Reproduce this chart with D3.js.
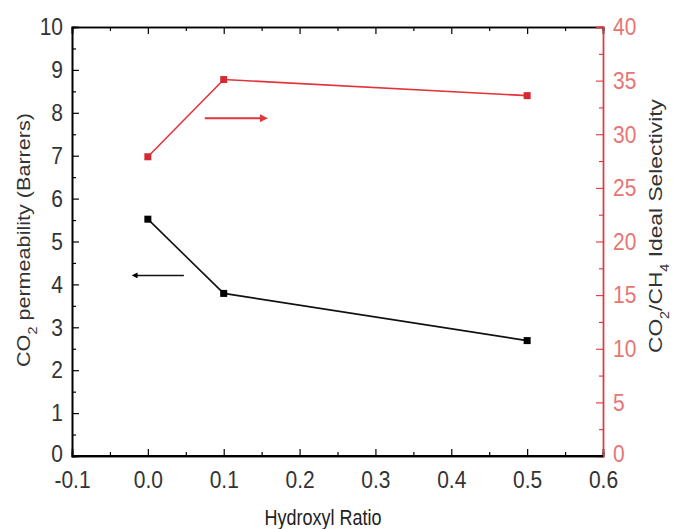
<!DOCTYPE html>
<html><head><meta charset="utf-8">
<script src="https://cdn.jsdelivr.net/npm/d3@7"></script>
<style>body{margin:0;background:#fff}svg{display:block}text{font-family:"Liberation Sans",Arial,sans-serif}
.sy{transform-box:fill-box;transform-origin:center;transform:scaleY(1.15)}
.sx{transform-box:fill-box;transform-origin:center;transform:scaleX(1.2)}
.sy2{transform-box:fill-box;transform-origin:center;transform:scaleY(1.2)}
</style>
</head><body>
<svg id="c" width="674" height="529"></svg>
<script>
const xValues = [0.0, 0.1, 0.5];
const permeability = [5.52, 3.79, 2.69];
const selectivity = [27.9, 35.1, 33.6];
const xTicks = [-0.1, 0.0, 0.1, 0.2, 0.3, 0.4, 0.5, 0.6];
const yLeftTicks = [0,1,2,3,4,5,6,7,8,9,10];
const yRightTicks = [0,5,10,15,20,25,30,35,40];

const svg = d3.select("#c");
const L = 72, R = 603, T = 27, B = 456;
const red = "#e3343c";
const x = d3.scaleLinear().domain([-0.1, 0.6]).range([L, R]);
const yl = d3.scaleLinear().domain([0, 10]).range([B, T]);
const yr = d3.scaleLinear().domain([0, 40]).range([B, T]);

function minor(arr){ const out=[]; for(let i=0;i<arr.length-1;i++) out.push((arr[i]+arr[i+1])/2); return out; }
const fx = d => d3.format(".1f")(d).replace("\u2212","-");

// bottom axis
const gb = svg.append("g").attr("transform",`translate(0,${B})`);
gb.call(d3.axisBottom(x).tickValues(xTicks).tickSize(-7).tickPadding(16).tickFormat(fx));
gb.append("g").call(d3.axisBottom(x).tickValues(minor(xTicks)).tickSize(-4).tickFormat(""));
// top axis
const gt = svg.append("g").attr("transform",`translate(0,${T})`);
gt.call(d3.axisTop(x).tickValues(xTicks).tickSize(-7).tickFormat(""));
gt.append("g").call(d3.axisTop(x).tickValues(minor(xTicks)).tickSize(-4).tickFormat(""));
// left axis
const gl = svg.append("g").attr("transform",`translate(${L},0)`);
gl.call(d3.axisLeft(yl).tickValues(yLeftTicks).tickSize(-7).tickPadding(9).tickFormat(d3.format("d")));
gl.append("g").call(d3.axisLeft(yl).tickValues(minor(yLeftTicks)).tickSize(-4).tickFormat(""));
// right axis
const gr = svg.append("g").attr("transform",`translate(${R},0)`);
gr.call(d3.axisRight(yr).tickValues(yRightTicks).tickSize(-7).tickPadding(10).tickFormat(d3.format("d")));
gr.append("g").call(d3.axisRight(yr).tickValues(minor(yRightTicks)).tickSize(-4).tickFormat(""));

[gb,gt,gl].forEach(g=>{
  g.selectAll("path.domain").attr("stroke","#000").attr("stroke-width",1.6);
  g.selectAll("line").attr("stroke","#000").attr("stroke-width",1.2);
  g.selectAll("text").attr("fill","#333").style("font-size","21px").attr("class","sy");
});
gr.selectAll("path.domain").attr("stroke",red).attr("stroke-width",1.4);
gr.selectAll("line").attr("stroke",red).attr("stroke-width",1.1);
gr.selectAll("text").attr("fill","#e87474").style("font-size","21px").attr("class","sy");
// lift the zero labels slightly so they clear the x tick labels
gl.selectAll(".tick text").filter(d=>d===0).attr("dy","0.2em");
gr.selectAll(".tick text").filter(d=>d===0).attr("dy","0.2em");
svg.append("line").attr("x1",L).attr("x2",R).attr("y1",B).attr("y2",B).attr("stroke","#000").attr("stroke-width",2);

// lines
const lineL = d3.line().x((d,i)=>x(xValues[i])).y(d=>yl(d));
const lineR = d3.line().x((d,i)=>x(xValues[i])).y(d=>yr(d));
svg.append("path").datum(permeability).attr("d",lineL).attr("fill","none").attr("stroke","#111").attr("stroke-width",1.6);
svg.append("path").datum(selectivity).attr("d",lineR).attr("fill","none").attr("stroke",red).attr("stroke-width",1.6);
const s = 7;
svg.selectAll(".pl").data(permeability).enter().append("rect")
  .attr("x",(d,i)=>x(xValues[i])-s/2).attr("y",d=>yl(d)-s/2).attr("width",s).attr("height",s).attr("fill","#000");
svg.selectAll(".pr").data(selectivity).enter().append("rect")
  .attr("x",(d,i)=>x(xValues[i])-s/2).attr("y",d=>yr(d)-s/2).attr("width",s).attr("height",s).attr("fill","#d42a32");

// arrows
const defs = svg.append("defs");
function marker(id,color){
  defs.append("marker").attr("id",id).attr("viewBox","0 0 10 10").attr("refX",5).attr("refY",5)
    .attr("markerWidth",4).attr("markerHeight",4).attr("orient","auto")
    .append("path").attr("d","M0,0 L10,5 L0,10 z").attr("fill",color);
}
marker("ab","#000"); marker("ar",red);
svg.append("line").attr("x1",x(0.0475)).attr("x2",x(-0.0175)).attr("y1",yl(4.21)).attr("y2",yl(4.21))
  .attr("stroke","#111").attr("stroke-width",1.5).attr("marker-end","url(#ab)");
svg.append("line").attr("x1",x(0.075)).attr("x2",x(0.153)).attr("y1",yr(31.5)).attr("y2",yr(31.5))
  .attr("stroke",red).attr("stroke-width",2).attr("marker-end","url(#ar)");

// titles
svg.append("text").attr("class","sy2").attr("x",323).attr("y",524).attr("text-anchor","middle").style("font-size","18px").attr("fill","#222").text("Hydroxyl Ratio");
const lt = svg.append("g").attr("transform","translate(30,240) rotate(-90)")
  .append("text").attr("class","sx").attr("text-anchor","middle").style("font-size","18px").attr("fill","#333");
lt.append("tspan").text("CO");
lt.append("tspan").attr("baseline-shift","sub").style("font-size","12px").text("2");
lt.append("tspan").text(" permeability (Barrers)");
const rt = svg.append("g").attr("transform","translate(662,226) rotate(-90)")
  .append("text").attr("class","sx").attr("text-anchor","middle").style("font-size","19px").attr("fill","#333");
rt.append("tspan").text("CO");
rt.append("tspan").attr("baseline-shift","sub").style("font-size","12px").text("2");
rt.append("tspan").text("/CH");
rt.append("tspan").attr("baseline-shift","sub").style("font-size","12px").text("4");
rt.append("tspan").text(" Ideal Selectivity");
</script>
</body></html>
